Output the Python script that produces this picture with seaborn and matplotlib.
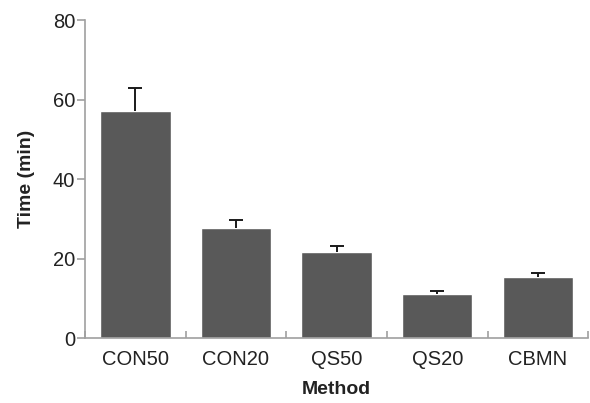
import matplotlib
matplotlib.use("Agg")
import matplotlib.pyplot as plt
import seaborn as sns
import numpy as np

methods = ["CON50", "CON20", "QS50", "QS20", "CBMN"]
times = [57.2, 27.7, 21.7, 11.1, 15.4]
errors = [5.8, 1.9, 1.6, 0.8, 1.1]
yticks = [0, 20, 40, 60, 80]

sns.set_style("white")
plt.rcParams['font.family'] = ['Liberation Sans', 'DejaVu Sans']

fig = plt.figure(figsize=(5.9, 4.03), dpi=100)
ax = fig.add_axes([0.144, 0.161, 0.853, 0.789])

sns.barplot(x=methods, y=times, color="#595959", saturation=1, width=0.7,
            errorbar=None, ax=ax)
# upper error only: hide the lower caps
_, caps, _ = ax.errorbar(np.arange(len(methods)), times,
                         yerr=[np.zeros(len(errors)), errors],
                         fmt="none", ecolor="#1a1a1a", elinewidth=1.4,
                         capsize=5, capthick=1.4)
caps[0].set_visible(False)

ax.set_xlim(-0.5, len(methods) - 0.5)
ax.set_ylim(0, 80)
ax.set_yticks(yticks)

gray = "#a0a0a0"
for side in ["top", "right"]:
    ax.spines[side].set_visible(False)
for side in ["left", "bottom"]:
    ax.spines[side].set_color(gray)
    ax.spines[side].set_linewidth(1.2)

ax.tick_params(axis="y", which="major", left=True, direction="out", length=6,
               width=1.2, color=gray, labelsize=14.5, labelcolor="#222222", pad=1)
ax.tick_params(axis="x", which="major", bottom=False, labelsize=14.5,
               labelcolor="#222222", pad=5)
ax.set_xticks(np.arange(-0.5, len(methods)), minor=True)
ax.tick_params(axis="x", which="minor", bottom=True, direction="in", length=5,
               width=1.2, color=gray)

ax.set_xlabel("Method", fontsize=14, fontweight="bold", color="#222222", labelpad=9)
ax.set_ylabel("Time (min)", fontsize=14, fontweight="bold", color="#222222", labelpad=13)

fig.savefig("out.png", dpi=100)
